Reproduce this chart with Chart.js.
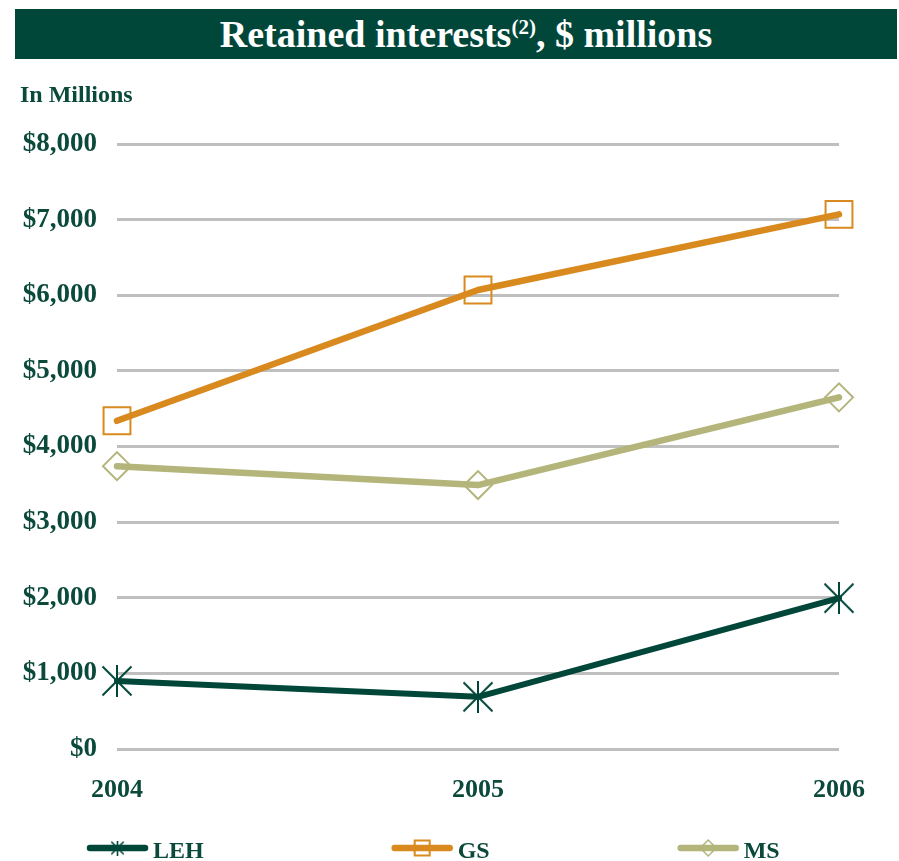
<!DOCTYPE html>
<html>
<head>
<meta charset="utf-8">
<script src="https://cdn.jsdelivr.net/npm/chart.js@4.4.1/dist/chart.umd.min.js"></script>
<style>
  html, body { margin: 0; padding: 0; background: #ffffff; }
  #wrap { position: relative; width: 899px; height: 861px; overflow: hidden; }
  #banner { position: absolute; left: 15px; top: 9px; width: 882px; height: 50px; background: #00473a;
    color: #fff; font-family: "Liberation Serif", "Times New Roman", serif; font-weight: bold; font-size: 38px;
    line-height: 50px; text-align: center; box-sizing: border-box; padding-left: 20px; white-space: nowrap; }
  #banner sup { font-size: 21px; vertical-align: 0; position: relative; top: -13px; }
  #unit { position: absolute; left: 20px; top: 81px; font-family: "Liberation Serif", "Times New Roman", serif;
    font-weight: bold; font-size: 24px; color: #0b4a3b; white-space: nowrap; }
  #c { position: absolute; left: 0; top: 0; }
</style>
</head>
<body>
<div id="wrap">
  <canvas id="c" width="899" height="861"></canvas>
  <div id="banner">Retained interests<sup>(2)</sup>, $ millions</div>
  <div id="unit">In Millions</div>
</div>
<script>
const years = ['2004', '2005', '2006'];
const seriesNames = ['LEH', 'GS', 'MS'];
const lehValues = [900, 690, 1995];
const gsValues = [4340, 6070, 7070];
const msValues = [3740, 3490, 4650];
const yTicks = [0, 1000, 2000, 3000, 4000, 5000, 6000, 7000, 8000];

const GREEN = '#00473a';
const ORANGE = '#d98a1f';
const OLIVE = '#b3b57a';
const TEXT = '#0b4a3b';
const FONT = '"Liberation Serif", "Times New Roman", serif';

function makeStar(size, lw, color) {
  const c = document.createElement('canvas');
  c.width = size; c.height = size;
  const x = c.getContext('2d');
  x.strokeStyle = color; x.lineWidth = lw; x.lineCap = 'butt';
  const m = lw / 2 + 0.5, e = size - m, h = size / 2;
  x.beginPath();
  x.moveTo(m, m); x.lineTo(e, e);
  x.moveTo(e, m); x.lineTo(m, e);
  x.moveTo(h, 0); x.lineTo(h, size);
  x.stroke();
  return c;
}
const starBig = makeStar(32, 2, GREEN);
const starSmall = makeStar(15, 1.6, GREEN);

const legendPlugin = {
  id: 'customLegend',
  afterDraw(chart) {
    const ctx = chart.ctx;
    const y = 848;
    let x = 87;
    const smallStyles = [
      { pointStyle: starSmall, radius: 7, rotation: 0, borderWidth: 0 },
      { pointStyle: 'rect', radius: 10.6, rotation: 0, borderWidth: 2 },
      { pointStyle: 'rectRot', radius: 8, rotation: 0, borderWidth: 1.5 }
    ];
    chart.data.datasets.forEach((ds, i) => {
      ctx.save();
      ctx.strokeStyle = ds.borderColor;
      ctx.lineWidth = 6.5;
      ctx.lineCap = 'round';
      ctx.beginPath();
      ctx.moveTo(x + 3, y);
      ctx.lineTo(x + 58, y);
      ctx.stroke();
      ctx.strokeStyle = ds.pointBorderColor;
      ctx.fillStyle = 'rgba(0,0,0,0)';
      ctx.lineWidth = smallStyles[i].borderWidth || 1;
      Chart.helpers.drawPoint(ctx, smallStyles[i], x + 30.5, y);
      ctx.fillStyle = TEXT;
      ctx.font = 'bold 24px ' + FONT;
      ctx.textBaseline = 'alphabetic';
      ctx.textAlign = 'left';
      ctx.fillText(ds.label, x + 66, y + 10);
      const w = ctx.measureText(ds.label).width;
      ctx.restore();
      x = x + 66 + w + 188;
    });
  }
};

new Chart(document.getElementById('c'), {
  type: 'line',
  data: {
    labels: years,
    datasets: [
      { label: seriesNames[0], data: lehValues, borderColor: GREEN, borderWidth: 6,
        pointStyle: starBig, pointRadius: 15, pointBorderColor: GREEN, pointBackgroundColor: 'rgba(0,0,0,0)',
        pointBorderWidth: 2, clip: false },
      { label: seriesNames[1], data: gsValues, borderColor: ORANGE, borderWidth: 6.5,
        pointStyle: 'rect', pointRadius: 19, pointBorderColor: ORANGE, pointBackgroundColor: 'rgba(0,0,0,0)',
        pointBorderWidth: 2, clip: false },
      { label: seriesNames[2], data: msValues, borderColor: OLIVE, borderWidth: 6.5,
        pointStyle: 'rectRot', pointRadius: 14, pointBorderColor: OLIVE, pointBackgroundColor: 'rgba(0,0,0,0)',
        pointBorderWidth: 2, clip: false }
    ].map(d => Object.assign(d, { borderCapStyle: 'round', borderJoinStyle: 'round', tension: 0, fill: false }))
  },
  options: {
    responsive: false,
    animation: false,
    devicePixelRatio: 1,
    layout: { padding: { left: 0, right: 60, top: 144, bottom: 0 } },
    plugins: { legend: { display: false }, tooltip: { enabled: false }, title: { display: false } },
    scales: {
      x: {
        type: 'category',
        offset: false,
        grid: { display: false, drawTicks: false },
        border: { display: false },
        ticks: { color: TEXT, font: { family: FONT, weight: 'bold', size: 26 }, padding: 26, maxRotation: 0 },
        afterFit(s) { s.height = 112; }
      },
      y: {
        min: 0, max: 8000,
        afterBuildTicks(s) { s.ticks = yTicks.map(v => ({ value: v })); },
        grid: { color: '#bfbfbf', lineWidth: 3, drawTicks: false },
        border: { display: false },
        ticks: {
          color: TEXT, font: { family: FONT, weight: 'bold', size: 27 }, padding: 20,
          callback: v => '$' + v.toLocaleString('en-US')
        },
        afterFit(s) { s.width = 117; }
      }
    }
  },
  plugins: [legendPlugin]
});
</script>
</body>
</html>
